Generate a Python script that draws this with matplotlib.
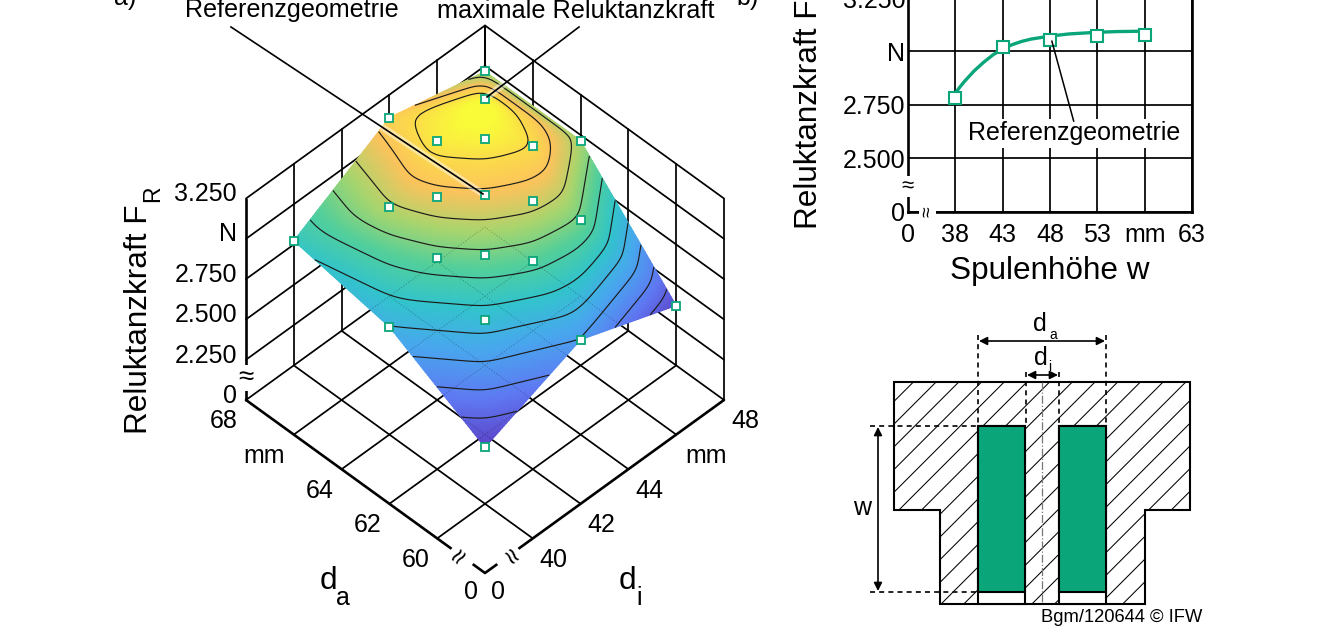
"""Reluktanzkraft over coil geometry: response surface, height sweep and cross-section sketch."""
import matplotlib

matplotlib.use("Agg")
import matplotlib.pyplot as plt
import matplotlib.tri as mtri
import numpy as np
from matplotlib.colors import LinearSegmentedColormap
from matplotlib.patches import Polygon, Rectangle

plt.rcParams["font.family"] = ["Liberation Sans", "DejaVu Sans"]

# surface design points: outer diameter, inner diameter, force
DESIGN_DA = [68, 66, 65, 64, 63, 62, 60, 66, 65, 64, 64, 63, 62, 68, 66, 64, 64, 62, 60, 68, 60]
DESIGN_DI = [48, 46, 45, 44, 43, 42, 40, 44, 43, 42, 46, 45, 44, 44, 42, 40, 48, 46, 44, 40, 48]
DESIGN_F = [2965, 3225, 3188, 3058, 2897, 2710, 2350, 3176, 3046, 2879,
            3145, 3021, 2860, 3108, 2984, 2668, 2965, 2904, 2588, 2773, 2371]
CONTOUR_LEVELS = [2430, 2510, 2590, 2670, 2750, 2830, 2910, 2990, 3070, 3140]

# surface outline, running round the design square
OUTLINE_DA = [68, 68, 68, 64, 60, 60, 60, 64]
OUTLINE_DI = [40, 44, 48, 48, 48, 44, 40, 40]

DA_TICKS = [60, 62, 64, 66, 68]
DI_TICKS = [40, 42, 44, 46, 48]
DA_LABELS = ["60", "62", "64", "mm", "68"]
DI_LABELS = ["40", "42", "44", "mm", "48"]
FORCE_LEVELS = [2250, 2500, 2750, 3000, 3250]
FORCE_LABELS = ["0", "2.250", "2.500", "2.750", "N", "3.250"]

# coil height sweep
HEIGHT_W = [38, 43, 48, 53, 58]
HEIGHT_F = [2783, 3020, 3055, 3071, 3078]
CURVE_W = [38, 38.5, 39, 40, 41, 42, 43, 44, 45, 46, 48, 50, 53, 55, 58]
CURVE_F = [2806, 2835, 2862, 2910, 2950, 2985, 3012, 3032, 3047, 3058, 3072, 3082, 3090, 3093, 3095]
SWEEP_TICKS = [33, 38, 43, 48, 53, 58, 63]
SWEEP_TICK_LABELS = ["0", "38", "43", "48", "53", "mm", "63"]
SWEEP_Y_TICKS = [2250, 2500, 2750, 3000, 3250]
SWEEP_Y_LABELS = ["0", "2.500", "2.750", "N", "3.250"]

GREEN = "#0aa67a"
TICK_SIZE = 18
GRID_LW = 1.25

# isometric layout of the 3D box on the page
FRONT_X, FRONT_Y = 485.0, 573.0
STEP_X, STEP_Y = 47.8, 34.6
Z_SCALE = 40.3 / 250
FORCE_BASE = 2000

parula_soft = LinearSegmentedColormap.from_list("parula_soft", [
    (0.00, "#5b3fc4"), (0.16, "#5f78f2"), (0.33, "#48a8ee"), (0.47, "#32c4cc"),
    (0.60, "#52cf9c"), (0.72, "#a8d56e"), (0.84, "#fcc35c"), (0.93, "#fbdc4a"), (1.00, "#f9fb38"),
])


def project(da, di, force=FORCE_BASE):
    i = (np.asarray(da, dtype=float) - 58) / 2
    j = (np.asarray(di, dtype=float) - 38) / 2
    x = FRONT_X + STEP_X * (j - i)
    y = FRONT_Y - STEP_Y * (i + j) - (np.asarray(force, dtype=float) - FORCE_BASE) * Z_SCALE
    return x, y


def line3d(ax, da, di, force=FORCE_BASE, **kw):
    x, y = project(da, di, force)
    kw.setdefault("color", "black")
    kw.setdefault("lw", GRID_LW)
    kw.setdefault("solid_capstyle", "round")
    return ax.plot(x, y, **kw)


def draw_box(ax):
    for f in FORCE_LEVELS:
        line3d(ax, [68, 68], [38, 48], [f, f], zorder=1)
        line3d(ax, [58, 68], [48, 48], [f, f], zorder=1)
    for di in [38] + DI_TICKS:
        line3d(ax, [68, 68], [di, di], [FORCE_BASE, 3250], lw=1.9 if di == 38 else GRID_LW, zorder=1)
    for da in [58] + DA_TICKS:
        line3d(ax, [da, da], [48, 48], [FORCE_BASE, 3250], zorder=1)
    for di in DI_TICKS:
        line3d(ax, [58, 68], [di, di], zorder=1)
    for da in DA_TICKS:
        line3d(ax, [da, da], [38, 48], zorder=1)
    # front axes
    line3d(ax, [68, 58, 58], [38, 38, 48], lw=1.9, zorder=1.5)
    x, y = project(68, 38)
    ax.text(x, y - 22, "≈", fontsize=20, ha="center", va="center", zorder=2,
            bbox=dict(fc="white", ec="none", pad=0))
    for da, di, rot in [(59, 38, 50), (58, 39, -50)]:
        x, y = project(da, di)
        ax.text(x, y + 2, "≈", fontsize=20, rotation=rot, ha="center", va="center", zorder=2,
                bbox=dict(fc="white", ec="none", pad=0))


def _outline_index():
    pairs = list(zip(DESIGN_DA, DESIGN_DI))
    return [pairs.index(p) for p in zip(OUTLINE_DA, OUTLINE_DI)]


def draw_surface(ax):
    tri = mtri.Triangulation(DESIGN_DA, DESIGN_DI)
    linear = mtri.LinearTriInterpolator(tri, np.array(DESIGN_F, dtype=float))
    da_fine, di_fine = np.meshgrid(np.linspace(60, 68, 81), np.linspace(40, 48, 81))
    force = np.ma.getdata(linear(da_fine, di_fine)).copy()
    # round off the facets, the rim stays put so the outline keeps its straight edges
    for _ in range(15):
        force[1:-1, 1:-1] = 0.25 * (force[:-2, 1:-1] + force[2:, 1:-1] + force[1:-1, :-2] + force[1:-1, 2:])
    xp, yp = project(da_fine, di_fine, force)
    ax.pcolormesh(xp, yp, force, shading="gouraud", cmap=parula_soft, vmin=2340, vmax=3200, zorder=3)
    ax.contour(xp, yp, force, levels=CONTOUR_LEVELS, colors="#1c1c1c", linewidths=0.85, zorder=4)

    # floor grid showing faintly through the surface
    ox, oy = project(OUTLINE_DA, OUTLINE_DI, [DESIGN_F[k] for k in _outline_index()])
    outline = Polygon(np.column_stack([ox, oy]), closed=True, fc="none", ec="none", zorder=3)
    ax.add_patch(outline)
    for tick in DA_TICKS:
        for ln in line3d(ax, [tick, tick], [38, 48], lw=0.8, ls=":", alpha=0.25, zorder=3.5):
            ln.set_clip_path(outline)
    for tick in DI_TICKS:
        for ln in line3d(ax, [58, 68], [tick, tick], lw=0.8, ls=":", alpha=0.25, zorder=3.5):
            ln.set_clip_path(outline)
    return outline


def draw_surface_panel(ax):
    draw_box(ax)
    outline = draw_surface(ax)

    mx, my = project(DESIGN_DA, DESIGN_DI, DESIGN_F)
    ax.plot(mx, my, ls="none", marker="s", ms=6, mfc="white", mec=GREEN, mew=1.3, zorder=6)

    # leaders, with the soft glow they leave on the surface
    for (x0, y0), (x1, y1) in [((231, 27), (483, 194)), ((579, 27), (487, 97))]:
        glow = ax.plot([x0, x1], [y0, y1], color="white", lw=5, alpha=0.45, zorder=4.5)[0]
        glow.set_clip_path(outline)
        ax.plot([x0, x1], [y0, y1], color="black", lw=1.2, zorder=7)
    ax.text(291.5, 10.5, "Referenzgeometrie", fontsize=18.1, ha="center", va="center")
    ax.text(575.5, 10.5, "maximale Reluktanzkraft", fontsize=18.2, ha="center", va="center")
    ax.text(114, -2, "a)", fontsize=TICK_SIZE, ha="left", va="center")

    # force axis labels
    x0, y0 = project(68, 38)
    for k, label in enumerate(FORCE_LABELS):
        ax.text(x0 - 9, y0 - 4 - k * 40.4, label, fontsize=TICK_SIZE, ha="right", va="center")
    ax.text(139, 319, "Reluktanzkraft F", fontsize=22.7, rotation=90, ha="center", va="center")
    ax.text(153, 194, "R", fontsize=16.5, rotation=90, ha="center", va="center")

    # floor axis labels, the unit sits further out than the numbers
    for da, label in zip(DA_TICKS, DA_LABELS):
        x, y = project(da, 38)
        ax.text(x - (30 if label == "mm" else 22), y + 21.5, label, fontsize=TICK_SIZE, ha="center", va="center")
    for di, label in zip(DI_TICKS, DI_LABELS):
        x, y = project(58, di)
        ax.text(x + (30 if label == "mm" else 21), y + 21.5, label, fontsize=TICK_SIZE, ha="center", va="center")
    ax.text(FRONT_X - 14, FRONT_Y + 19, "0", fontsize=TICK_SIZE, ha="center", va="center")
    ax.text(FRONT_X + 13, FRONT_Y + 19, "0", fontsize=TICK_SIZE, ha="center", va="center")
    ax.text(328, 581, "d", fontsize=22.7, ha="center", va="center")
    ax.text(343, 598, "a", fontsize=18, ha="center", va="center")
    ax.text(627, 581, "d", fontsize=22.7, ha="center", va="center")
    ax.text(639, 598, "i", fontsize=18, ha="center", va="center")


def draw_sweep_panel(fig, page):
    left, right, bottom, top = 908, 1192, 212, -2
    ax = fig.add_axes([left / 1320, 1 - bottom / 636, (right - left) / 1320, (bottom - top) / 636])
    ax.set_xlim(33, 63)
    ax.set_ylim(2250, 3250)
    ax.patch.set_alpha(0)
    ax.set_xticks(SWEEP_TICKS, SWEEP_TICK_LABELS, fontsize=TICK_SIZE)
    ax.set_yticks(SWEEP_Y_TICKS, SWEEP_Y_LABELS, fontsize=TICK_SIZE)
    ax.tick_params(length=0, pad=2)
    ax.tick_params(axis="x", pad=8)
    ax.grid(color="black", lw=GRID_LW, zorder=1)
    ax.set_axisbelow(True)
    for name in ["left", "bottom", "right"]:
        ax.spines[name].set_linewidth(1.9)
    ax.spines["top"].set_visible(False)

    ax.plot(CURVE_W, CURVE_F, color=GREEN, lw=2.4, zorder=4)
    ax.plot(HEIGHT_W, HEIGHT_F, ls="none", marker="s", ms=8.5, mfc="white", mec=GREEN, mew=1.5, zorder=5)

    ax.plot([48.2, 50.5], [3048, 2675], color="black", lw=1.1, zorder=6)
    ax.text(50.6, 2617, "Referenzgeometrie", fontsize=TICK_SIZE, ha="center", va="center", zorder=5.5,
            bbox=dict(fc="white", ec="none", pad=2))

    ax.text(33, 2367, "≈", fontsize=16, ha="center", va="center", zorder=7, clip_on=False,
            bbox=dict(fc="white", ec="none", pad=0))
    ax.text(35.1, 2250, "≈", fontsize=14, rotation=90, ha="center", va="center", zorder=7, clip_on=False,
            bbox=dict(fc="white", ec="none", pad=0))

    page.text(748, -2, "b)", fontsize=TICK_SIZE, ha="center", va="center")
    page.text(809, 114, "Reluktanzkraft F", fontsize=22.7, rotation=90, ha="center", va="center")
    page.text(1050, 271, "Spulenhöhe w", fontsize=22.7, ha="center", va="center")


def draw_section(ax):
    body = [(894, 382), (1190, 382), (1190, 510), (1145, 510), (1145, 604), (940, 604), (940, 510), (894, 510)]
    outline = Polygon(body, closed=True, fc="white", ec="black", lw=1.5, zorder=2, joinstyle="miter")
    ax.add_patch(outline)
    for start in np.arange(880, 1440, 22.7):
        hatch = ax.plot([start, start - 240], [370, 610], color="black", lw=0.75, zorder=2.1)[0]
        hatch.set_clip_path(outline)
    for x0, x1 in [(978, 1025), (1059, 1106)]:
        ax.add_patch(Rectangle((x0, 426), x1 - x0, 178, fc="white", ec="black", lw=1.5, zorder=3))
        ax.add_patch(Rectangle((x0, 426), x1 - x0, 166, fc=GREEN, ec="black", lw=1.5, zorder=3.1))

    ax.plot([1042, 1042], [382, 604], color="#777777", lw=0.9, ls="-.", zorder=3)
    dash = (0, (3, 2.5))
    for x in [978, 1106]:
        ax.plot([x, x], [335, 426], color="black", lw=1.2, ls=dash, zorder=4)
    for x in [1026, 1059]:
        ax.plot([x, x], [372, 426], color="black", lw=1.2, ls=dash, zorder=4)
    for y in [426, 592]:
        ax.plot([870, 978], [y, y], color="black", lw=1.2, ls=dash, zorder=4)

    arrow = dict(arrowstyle="<|-|>", color="black", lw=1.2, mutation_scale=12, shrinkA=0, shrinkB=0)
    ax.annotate("", xy=(979, 341), xytext=(1105, 341), arrowprops=arrow, zorder=5)
    ax.annotate("", xy=(1027, 375), xytext=(1058, 375), arrowprops=arrow, zorder=5)
    ax.annotate("", xy=(878, 427), xytext=(878, 591), arrowprops=arrow, zorder=5)

    ax.text(1040, 324, "d", fontsize=18, ha="center", va="center")
    ax.text(1053, 335, "a", fontsize=10, ha="center", va="center")
    ax.text(1041, 358, "d", fontsize=18, ha="center", va="center")
    ax.text(1050, 367, "i", fontsize=10, ha="center", va="center")
    ax.text(862, 508, "w", fontsize=18, ha="center", va="center")
    ax.text(1122, 618, "Bgm/120644 © IFW", fontsize=13.2, ha="center", va="center")


fig = plt.figure(figsize=(13.2, 6.36), dpi=100, facecolor="white")
page = fig.add_axes([0, 0, 1, 1])
page.set_xlim(0, 1320)
page.set_ylim(636, 0)
page.axis("off")

draw_surface_panel(page)
draw_sweep_panel(fig, page)
draw_section(page)

fig.savefig("out.png", dpi=100, facecolor="white")
plt.close(fig)
